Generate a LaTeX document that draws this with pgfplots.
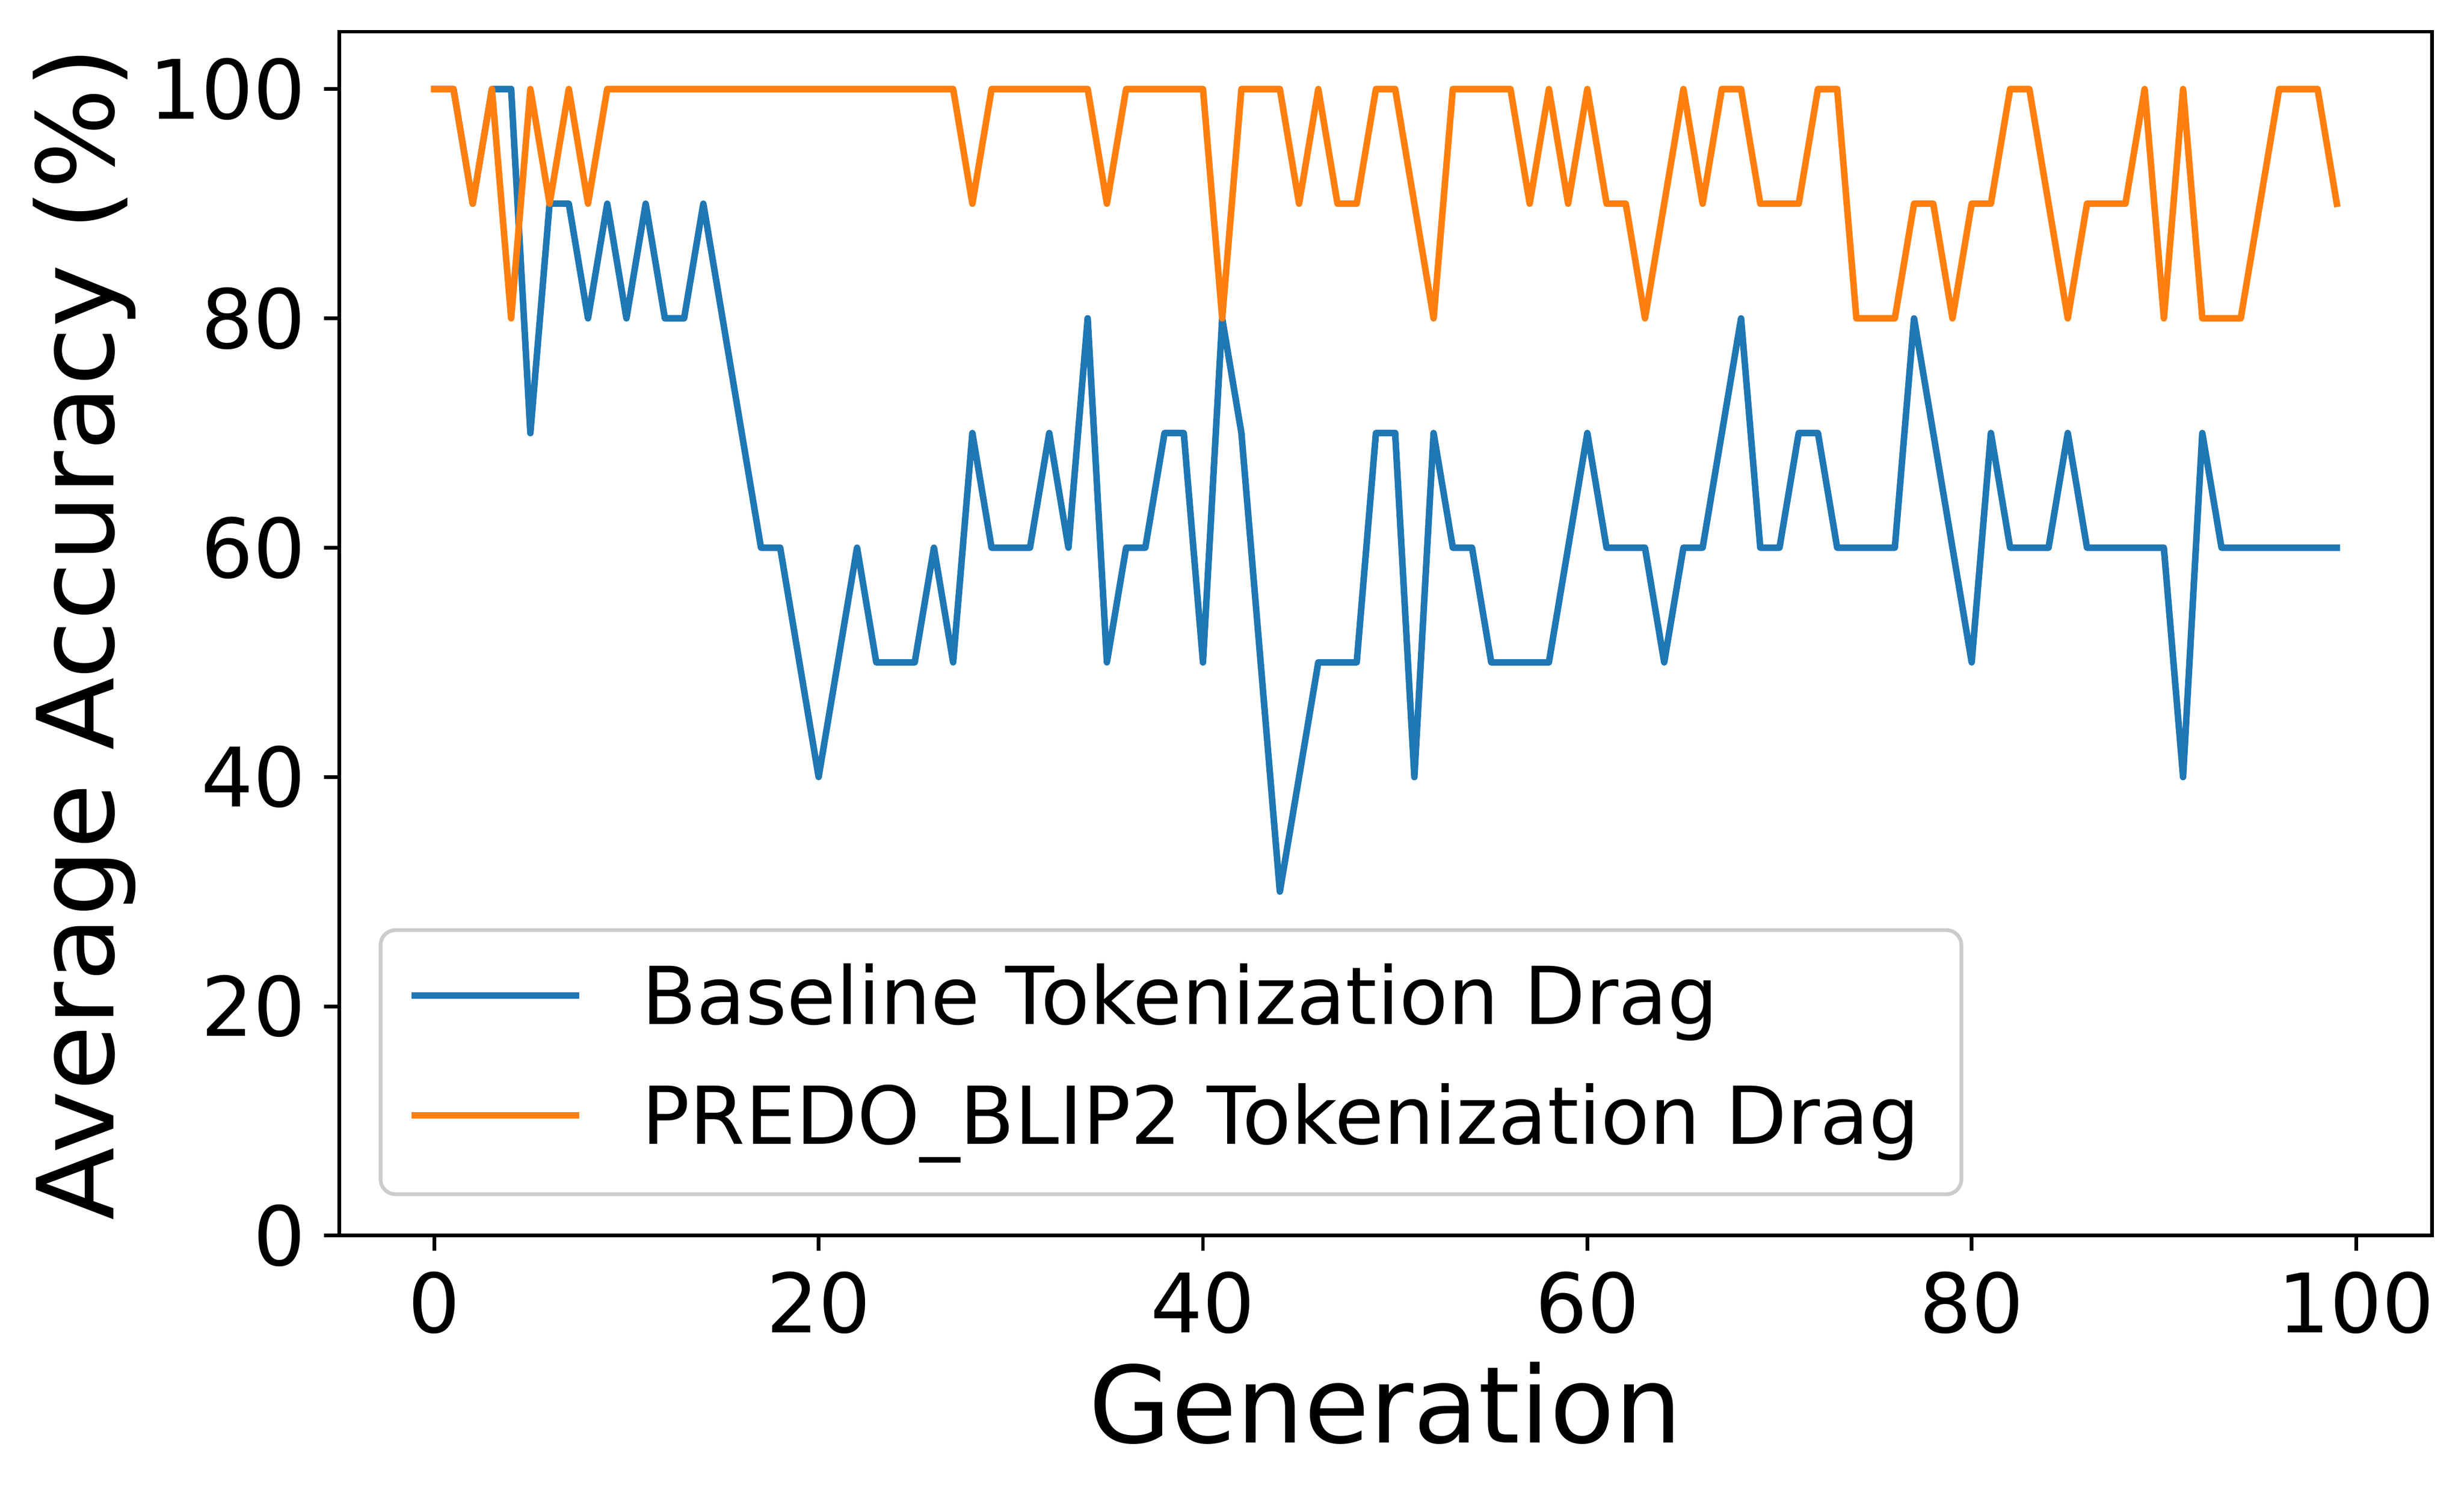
\documentclass[border=0pt]{standalone}
\usepackage{fontspec}
\setmainfont{DejaVu Sans}
\usepackage{pgfplots}
\pgfplotsset{compat=1.18}
\definecolor{mplblue}{HTML}{1F77B4}
\definecolor{mplorange}{HTML}{FF7F0E}
\begin{document}
\begin{tikzpicture}
\path[use as bounding box] (-90.9pt,-70.8pt) rectangle (569.5pt,331.2pt);
\begin{axis}[
  at={(0,0)}, anchor=south west,
  width=560.9pt, height=322.7pt, scale only axis,
  xmin=-4.95, xmax=103.95, ymin=0, ymax=105,
  xtick={0,20,40,60,80,100}, ytick={0,20,40,60,80,100},
  tick pos=left, tick align=outside,
  major tick length=4pt,
  every tick/.style={black, line width=1pt},
  axis line style={line width=1pt},
  /pgf/number format/assume math mode=true,
  ticklabel style={font=\fontsize{22}{26}\selectfont, inner sep=0pt},
  xticklabel shift=5.4pt, yticklabel shift=4.8pt,
  xlabel={Generation}, ylabel={Average Accuracy (\%)},
  label style={font=\fontsize{28.5}{34}\selectfont},
  xlabel style={at={(axis description cs:0.5,-0.172)}, anchor=base},
  ylabel style={at={(axis description cs:-0.1077,0.5)}, anchor=base},
  legend style={at={(axis description cs:0,0)}, anchor=south west,
    xshift=10.6pt, yshift=10.6pt,
    draw=black!20, line width=1pt, rounded corners=4pt,
    fill=white, fill opacity=0.8, text opacity=1,
    font=\fontsize{21.4}{25}\selectfont,
    inner xsep=7.4pt, inner ysep=9.0pt, row sep=11.4pt,
    nodes={inner sep=0pt, text height=16.2pt, text depth=4.5pt}},
  legend cell align=left,
  legend image code/.code={\path[draw=none,fill=none] (0pt,1pt) rectangle (61.7pt,2.7pt);\draw[#1, line width=1.75pt, line cap=butt] (0pt,1.85pt) -- (45pt,1.85pt);},
  every axis plot/.append style={line width=1.75pt, line join=round, line cap=rect},
]
\addplot[mplblue] coordinates {
(0,100)(1,100)(2,90)(3,100)(4,100)(5,70)(6,90)(7,90)(8,80)(9,90)
(10,80)(11,90)(12,80)(13,80)(14,90)(15,80)(16,70)(17,60)(18,60)(19,50)
(20,40)(21,50)(22,60)(23,50)(24,50)(25,50)(26,60)(27,50)(28,70)(29,60)
(30,60)(31,60)(32,70)(33,60)(34,80)(35,50)(36,60)(37,60)(38,70)(39,70)
(40,50)(41,80)(42,70)(43,50)(44,30)(45,40)(46,50)(47,50)(48,50)(49,70)
(50,70)(51,40)(52,70)(53,60)(54,60)(55,50)(56,50)(57,50)(58,50)(59,60)
(60,70)(61,60)(62,60)(63,60)(64,50)(65,60)(66,60)(67,70)(68,80)(69,60)
(70,60)(71,70)(72,70)(73,60)(74,60)(75,60)(76,60)(77,80)(78,70)(79,60)
(80,50)(81,70)(82,60)(83,60)(84,60)(85,70)(86,60)(87,60)(88,60)(89,60)
(90,60)(91,40)(92,70)(93,60)(94,60)(95,60)(96,60)(97,60)(98,60)(99,60)
};
\addlegendentry{Baseline Tokenization Drag}
\addplot[mplorange] coordinates {
(0,100)(1,100)(2,90)(3,100)(4,80)(5,100)(6,90)(7,100)(8,90)(9,100)
(10,100)(11,100)(12,100)(13,100)(14,100)(15,100)(16,100)(17,100)(18,100)(19,100)
(20,100)(21,100)(22,100)(23,100)(24,100)(25,100)(26,100)(27,100)(28,90)(29,100)
(30,100)(31,100)(32,100)(33,100)(34,100)(35,90)(36,100)(37,100)(38,100)(39,100)
(40,100)(41,80)(42,100)(43,100)(44,100)(45,90)(46,100)(47,90)(48,90)(49,100)
(50,100)(51,90)(52,80)(53,100)(54,100)(55,100)(56,100)(57,90)(58,100)(59,90)
(60,100)(61,90)(62,90)(63,80)(64,90)(65,100)(66,90)(67,100)(68,100)(69,90)
(70,90)(71,90)(72,100)(73,100)(74,80)(75,80)(76,80)(77,90)(78,90)(79,80)
(80,90)(81,90)(82,100)(83,100)(84,90)(85,80)(86,90)(87,90)(88,90)(89,100)
(90,80)(91,100)(92,80)(93,80)(94,80)(95,90)(96,100)(97,100)(98,100)(99,90)
};
\addlegendentry{PREDO\_BLIP2 Tokenization Drag\kern3.8pt}
\end{axis}
\end{tikzpicture}
\end{document}
